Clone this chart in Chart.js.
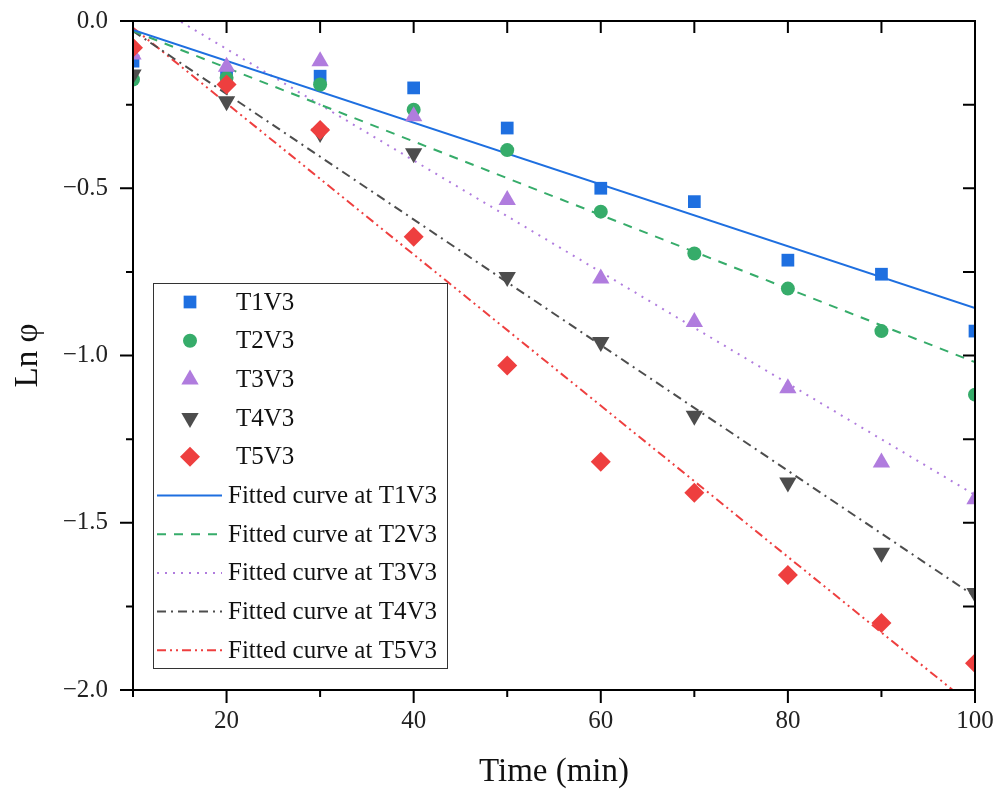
<!DOCTYPE html>
<html>
<head>
<meta charset="utf-8">
<script src="https://cdn.jsdelivr.net/npm/chart.js@4.4.0/dist/chart.umd.min.js"></script>
<style>
  html, body { margin: 0; padding: 0; background: #fff; }
  #wrap { width: 995px; height: 789px; }
</style>
</head>
<body>
<div id="wrap"><canvas id="lnChart" width="995" height="789"></canvas></div>
<script>
// Measured points (Ln phi vs time)
const timeMin = [10, 20, 30, 40, 50, 60, 70, 80, 90, 100];
const t1v3 = [-0.12, -0.16, -0.165, -0.20, -0.32, -0.50, -0.54, -0.715, -0.757, -0.927];
const t2v3 = [-0.175, -0.17, -0.19, -0.265, -0.386, -0.57, -0.695, -0.80, -0.927, -1.117];
const t3v3 = [-0.10, -0.137, -0.12, -0.285, -0.535, -0.77, -0.90, -1.098, -1.32, -1.43];
const t4v3 = [-0.16, -0.24, -0.335, -0.395, -0.765, -0.96, -1.18, -1.38, -1.59, -1.71];
const t5v3 = [-0.08, -0.19, -0.326, -0.645, -1.03, -1.318, -1.41, -1.656, -1.80, -1.92];

// Fitted lines, end points at t = 10 and t = 100
const fitX = [10, 100];
const fitT1V3 = [-0.027, -0.858];
const fitT2V3 = [-0.03, -1.02];
const fitT3V3 = [0.083, -1.417];
const fitT4V3 = [-0.03, -1.72];
const fitT5V3 = [-0.02, -2.054];

// Axis ticks
const xTicks = [20, 40, 60, 80, 100];
const xMinorTicks = [10, 30, 50, 70, 90];
const yTicks = [0, -0.5, -1.0, -1.5, -2.0];
const yMinorTicks = [-0.25, -0.75, -1.25, -1.75];

const colors = {
    t1: '#1E6FE0',
    t2: '#36AC6A',
    t3: '#B07CDE',
    t4: '#4D4D4D',
    t5: '#EE3F3F'
};

const toXY = (xs, ys) => xs.map((x, i) => ({ x: x, y: ys[i] }));

function markerSet(label, data, color, style, radius, rotation, order) {
    return {
        label: label,
        data: toXY(timeMin, data),
        showLine: false,
        pointStyle: style,
        pointRadius: radius,
        pointHoverRadius: radius,
        pointRotation: rotation,
        pointBackgroundColor: color,
        pointBorderColor: color,
        pointBorderWidth: 0,
        order: order
    };
}

function fitSet(label, data, color, dash, order) {
    return {
        label: label,
        data: toXY(fitX, data),
        showLine: true,
        borderColor: color,
        borderWidth: 2,
        borderDash: dash,
        pointRadius: 0,
        fill: false,
        order: order
    };
}

const datasets = [
    markerSet('T1V3', t1v3, colors.t1, 'rect', 9, 0, 5),
    markerSet('T2V3', t2v3, colors.t2, 'circle', 7, 0, 4),
    markerSet('T3V3', t3v3, colors.t3, 'triangle', 10, 0, 3),
    markerSet('T4V3', t4v3, colors.t4, 'triangle', 10, 180, 2),
    markerSet('T5V3', t5v3, colors.t5, 'rectRot', 10, 0, 1),
    fitSet('Fitted curve at T1V3', fitT1V3, colors.t1, [], 10),
    fitSet('Fitted curve at T2V3', fitT2V3, colors.t2, [9, 8], 11),
    fitSet('Fitted curve at T3V3', fitT3V3, colors.t3, [2, 6], 12),
    fitSet('Fitted curve at T4V3', fitT4V3, colors.t4, [9, 5, 2, 5], 13),
    fitSet('Fitted curve at T5V3', fitT5V3, colors.t5, [9, 4, 2, 4, 2, 4], 14)
];

// Box frame with Origin-style ticks (out on bottom/left, in on top/right)
const frameTicks = {
    id: 'frameTicks',
    afterDatasetsDraw(chart) {
        const { ctx, chartArea: a, scales: { x, y } } = chart;
        ctx.save();
        ctx.strokeStyle = '#000';
        ctx.lineWidth = 2;
        ctx.strokeRect(a.left, a.top, a.right - a.left, a.bottom - a.top);
        ctx.beginPath();
        xTicks.forEach(v => {
            const px = x.getPixelForValue(v);
            ctx.moveTo(px, a.bottom); ctx.lineTo(px, a.bottom + 13);
        });
        xMinorTicks.forEach(v => {
            const px = x.getPixelForValue(v);
            ctx.moveTo(px, a.bottom); ctx.lineTo(px, a.bottom + 7);
        });
        xTicks.concat(xMinorTicks).forEach(v => {
            const px = x.getPixelForValue(v);
            ctx.moveTo(px, a.top); ctx.lineTo(px, a.top + 12);
        });
        yTicks.forEach(v => {
            const py = y.getPixelForValue(v);
            ctx.moveTo(a.left, py); ctx.lineTo(a.left - 13, py);
        });
        yMinorTicks.forEach(v => {
            const py = y.getPixelForValue(v);
            ctx.moveTo(a.left, py); ctx.lineTo(a.left - 7, py);
        });
        yTicks.concat(yMinorTicks).forEach(v => {
            const py = y.getPixelForValue(v);
            ctx.moveTo(a.right, py); ctx.lineTo(a.right - 12, py);
        });
        ctx.stroke();
        ctx.restore();
    }
};

// Legend box drawn inside the plot
const insideLegend = {
    id: 'insideLegend',
    afterDraw(chart) {
        const ctx = chart.ctx;
        const box = { left: 153, top: 283, right: 447, bottom: 668 };
        const rowTop = 302, rowStep = 38.7;
        ctx.save();
        ctx.fillStyle = '#fff';
        ctx.fillRect(box.left, box.top, box.right - box.left, box.bottom - box.top);
        ctx.strokeStyle = '#333';
        ctx.lineWidth = 1;
        ctx.strokeRect(box.left + 0.5, box.top + 0.5, box.right - box.left, box.bottom - box.top);
        ctx.font = '25px "Liberation Serif", "Times New Roman", serif';
        ctx.textBaseline = 'middle';
        chart.data.datasets.forEach((ds, i) => {
            const yRow = rowTop + i * rowStep;
            if (!ds.showLine) {
                ctx.fillStyle = ds.pointBackgroundColor;
                ctx.strokeStyle = ds.pointBorderColor;
                Chart.helpers.drawPoint(ctx, {
                    pointStyle: ds.pointStyle,
                    radius: ds.pointRadius,
                    rotation: ds.pointRotation,
                    borderWidth: 0
                }, 190, yRow);
                ctx.fillStyle = '#111';
                ctx.fillText(ds.label, 236, yRow + 1);
            } else {
                ctx.strokeStyle = ds.borderColor;
                ctx.lineWidth = 2;
                ctx.setLineDash(ds.borderDash);
                ctx.beginPath();
                ctx.moveTo(157, yRow);
                ctx.lineTo(222, yRow);
                ctx.stroke();
                ctx.setLineDash([]);
                ctx.fillStyle = '#111';
                ctx.fillText(ds.label, 228, yRow + 1);
            }
        });
        ctx.restore();
    }
};

const tickFont = { family: '"Liberation Serif", "Times New Roman", serif', size: 25 };
const titleFont = { family: '"Liberation Serif", "Times New Roman", serif', size: 33, lineHeight: 1 };

new Chart(document.getElementById('lnChart'), {
    type: 'scatter',
    data: { datasets: datasets },
    options: {
        responsive: false,
        animation: false,
        devicePixelRatio: 1,
        layout: { padding: { top: 21, right: 20, left: 0, bottom: 0 } },
        plugins: {
            legend: { display: false },
            tooltip: { enabled: false }
        },
        scales: {
            x: {
                type: 'linear',
                min: 10,
                max: 100,
                afterBuildTicks: scale => { scale.ticks = xTicks.map(v => ({ value: v })); },
                afterFit: scale => { scale.height = 99; },
                // ticks are drawn by frameTicks; tickLength only spaces the labels
                grid: { display: false, drawTicks: true, tickLength: 16 },
                border: { display: false },
                ticks: { font: tickFont, color: '#222', padding: 0, maxRotation: 0 },
                title: { display: true, text: 'Time (min)', font: titleFont, color: '#111', padding: 0 }
            },
            y: {
                type: 'linear',
                min: -2,
                max: 0,
                afterBuildTicks: scale => { scale.ticks = yTicks.map(v => ({ value: v })); },
                afterFit: scale => { scale.width = 133; },
                grid: { display: false, drawTicks: true, tickLength: 25 },
                border: { display: false },
                ticks: {
                    font: tickFont,
                    color: '#222',
                    padding: 0,
                    callback: v => (v < 0 ? '\u2212' : '') + Math.abs(v).toFixed(1)
                },
                title: { display: true, text: 'Ln \u03c6', font: titleFont, color: '#111', padding: { top: 12, bottom: 0 } }
            }
        }
    },
    plugins: [frameTicks, insideLegend]
});
</script>
</body>
</html>
